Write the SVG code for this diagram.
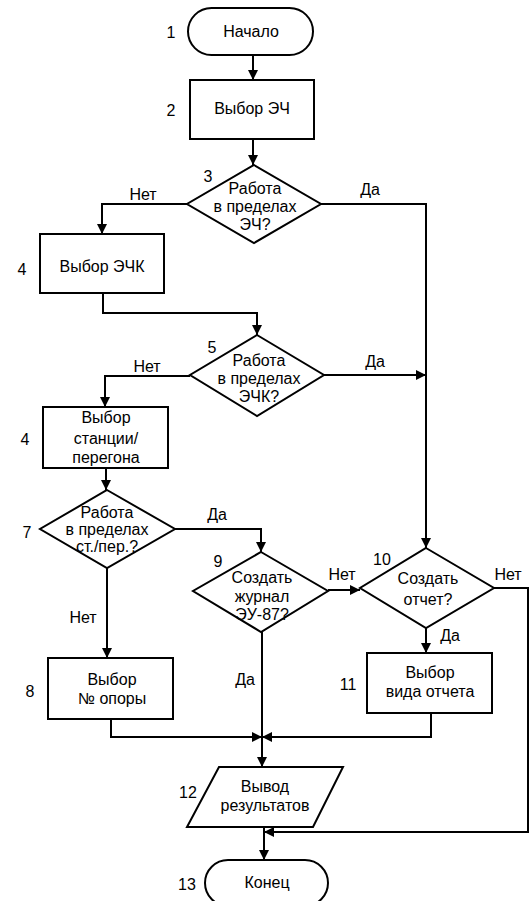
<svg xmlns="http://www.w3.org/2000/svg" width="531" height="901" viewBox="0 0 531 901">
<defs>
<marker id="ah" markerUnits="userSpaceOnUse" markerWidth="10" markerHeight="10" refX="10" refY="5" orient="auto">
<path d="M0,0 L10,5 L0,10 z" fill="#000"/>
</marker>
<style>
.s{fill:#fff;stroke:#000;stroke-width:2}
.c{fill:none;stroke:#000;stroke-width:2;marker-end:url(#ah)}
.l{fill:none;stroke:#000;stroke-width:2}
text{font-family:"Liberation Sans",Arial,sans-serif;font-size:16px;fill:#000}
.m{text-anchor:middle}
</style>
</defs>
<rect width="531" height="901" fill="#fff"/>
<g id="connectors">
<path class="c" d="M253,55 V80"/>
<path class="c" d="M253,139 V165"/>
<path class="c" d="M187,204 H102 V234"/>
<path class="c" d="M321,204 H426 V548"/>
<path class="c" d="M103,293 V313 H257 V335"/>
<path class="c" d="M190,376 H105 V407"/>
<path class="c" d="M324,375 H426"/>
<path class="c" d="M106,468 V490"/>
<path class="c" d="M175,529 H261 V552"/>
<path class="c" d="M107,568 V658"/>
<path class="c" d="M328,590 H360"/>
<path class="c" d="M262,632 V767"/>
<path class="c" d="M111,719 V737 H262"/>
<path class="c" d="M426,628 V653"/>
<path class="c" d="M431,713 V737 H262"/>
<path class="c" d="M494,588 H528 V832 H264"/>
<path class="c" d="M264,827 V860"/>
<text x="143" y="200" class="m">Нет</text>
<text x="370" y="195" class="m">Да</text>
<text x="147" y="372" class="m">Нет</text>
<text x="375" y="367" class="m">Да</text>
<text x="217" y="520" class="m">Да</text>
<text x="342" y="580" class="m">Нет</text>
<text x="508" y="580" class="m">Нет</text>
<text x="83" y="623" class="m">Нет</text>
<text x="245" y="685" class="m">Да</text>
<text x="450" y="641" class="m">Да</text>
</g>
<g id="n1">
<rect class="s" x="188" y="8" width="125" height="47" rx="23.5"/>
<text x="251" y="37" class="m">Начало</text>
<text x="171" y="38" class="m">1</text>
</g>
<g id="n2">
<rect class="s" x="190" y="80" width="124" height="59"/>
<text x="252" y="114" class="m">Выбор ЭЧ</text>
<text x="171" y="116" class="m">2</text>
</g>
<g id="n3">
<polygon class="s" points="254,165 321,204 254,243 187,204"/>
<text x="255" y="194" class="m">Работа</text>
<text x="255" y="212" class="m">в пределах</text>
<text x="255" y="230" class="m">ЭЧ?</text>
<text x="208" y="182" class="m">3</text>
</g>
<g id="n4">
<rect class="s" x="40" y="234" width="124" height="59"/>
<text x="102" y="272" class="m">Выбор ЭЧК</text>
<text x="22" y="275" class="m">4</text>
</g>
<g id="n5">
<polygon class="s" points="257,335 324,375 257,416 190,375"/>
<text x="259" y="366" class="m">Работа</text>
<text x="259" y="384" class="m">в пределах</text>
<text x="259" y="402" class="m">ЭЧК?</text>
<text x="212" y="353" class="m">5</text>
</g>
<g id="n6">
<rect class="s" x="43" y="407" width="125" height="61"/>
<text x="106" y="423" class="m">Выбор</text>
<text x="106" y="444" class="m">станции/</text>
<text x="106" y="463" class="m">перегона</text>
<text x="25" y="445" class="m">4</text>
</g>
<g id="n7">
<polygon class="s" points="107,490 175,529 107,568 40,529"/>
<text x="107" y="518" class="m">Работа</text>
<text x="107" y="535" class="m">в пределах</text>
<text x="107" y="552" class="m">ст./пер.?</text>
<text x="27" y="538" class="m">7</text>
</g>
<g id="n8">
<rect class="s" x="48" y="658" width="125" height="61"/>
<text x="112" y="685" class="m">Выбор</text>
<text x="112" y="704" class="m">№ опоры</text>
<text x="30" y="697" class="m">8</text>
</g>
<g id="n9">
<polygon class="s" points="261,552 328,591 261,632 193,591"/>
<text x="262" y="583" class="m">Создать</text>
<text x="262" y="602" class="m">журнал</text>
<text x="262" y="620" class="m">ЭУ-87?</text>
<text x="218" y="567" class="m">9</text>
</g>
<g id="n10">
<polygon class="s" points="426,548 494,588 426,628 360,588"/>
<text x="428" y="584" class="m">Создать</text>
<text x="428" y="605" class="m">отчет?</text>
<text x="382" y="565" class="m">10</text>
</g>
<g id="n11">
<rect class="s" x="367" y="653" width="125" height="60"/>
<text x="430" y="678" class="m">Выбор</text>
<text x="430" y="697" class="m">вида отчета</text>
<text x="348" y="690" class="m">11</text>
</g>
<g id="n12">
<polygon class="s" points="219,767 343,767 313,827 187,827"/>
<text x="265" y="792" class="m">Вывод</text>
<text x="265" y="811" class="m">результатов</text>
<text x="188" y="798" class="m">12</text>
</g>
<g id="n13">
<rect class="s" x="205" y="860" width="123" height="46" rx="23"/>
<text x="267" y="888" class="m">Конец</text>
<text x="187" y="890" class="m">13</text>
</g>
</svg>
